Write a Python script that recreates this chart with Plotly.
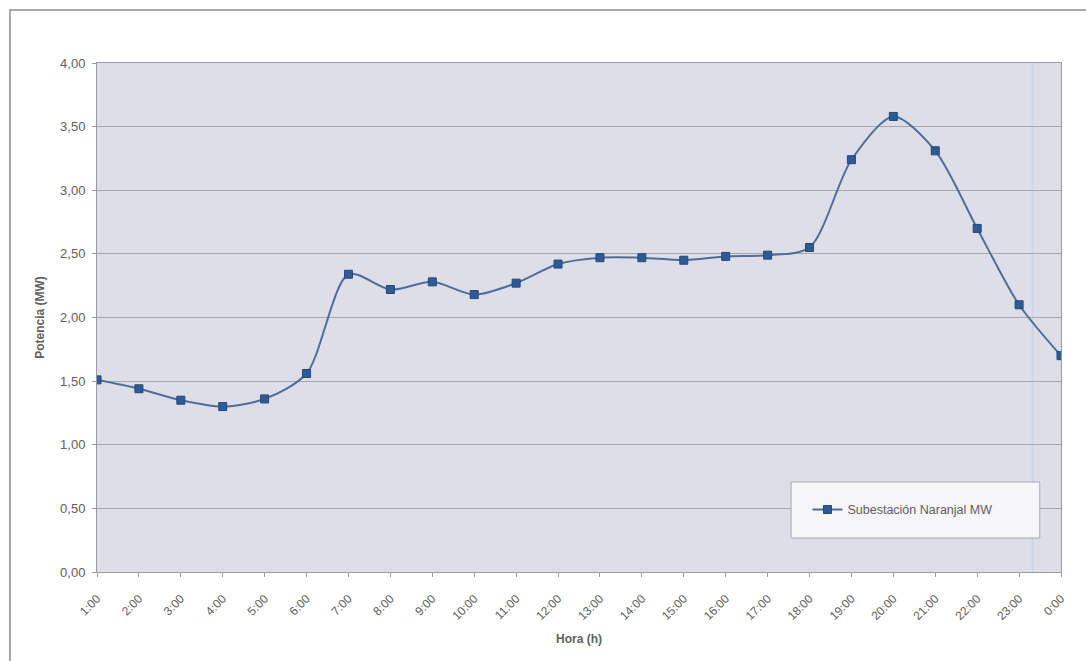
import plotly.graph_objects as go

# Hourly demand profile of the substation
horas = ["1:00", "2:00", "3:00", "4:00", "5:00", "6:00", "7:00", "8:00",
         "9:00", "10:00", "11:00", "12:00", "13:00", "14:00", "15:00", "16:00",
         "17:00", "18:00", "19:00", "20:00", "21:00", "22:00", "23:00", "0:00"]
potencia_mw = [1.51, 1.44, 1.35, 1.30, 1.36, 1.56, 2.34, 2.22,
               2.28, 2.18, 2.27, 2.42, 2.47, 2.47, 2.45, 2.48,
               2.49, 2.55, 3.24, 3.58, 3.31, 2.70, 2.10, 1.70]
y_ticks = [0, 0.5, 1.0, 1.5, 2.0, 2.5, 3.0, 3.5, 4.0]

FONT = "Liberation Sans, Arial, sans-serif"
GRAY_TXT = "#606060"

fig = go.Figure()
fig.add_trace(go.Scatter(
    x=list(range(len(horas))), y=potencia_mw,
    mode="lines+markers",
    name="Subestación Naranjal MW",
    line=dict(color="#4d6e9c", width=2, shape="spline", smoothing=0.8),
    marker=dict(symbol="square", size=8, color="#2d5b96",
                line=dict(color="#24497a", width=1)),
))

fig.update_layout(
    width=1086, height=661,
    margin=dict(l=97, r=25, t=63, b=89),
    paper_bgcolor="white",
    plot_bgcolor="#dedee9",
    separators=",.",
    font=dict(family=FONT, size=12, color=GRAY_TXT),
    showlegend=True,
    legend=dict(
        x=0.737, y=0.122, xanchor="left", yanchor="middle",
        bgcolor="rgba(0,0,0,0)", borderwidth=0,
        font=dict(family=FONT, size=12.5, color=GRAY_TXT),
        itemwidth=30,
    ),
    xaxis=dict(
        range=[0, len(horas) - 1],
        tickmode="array",
        tickvals=list(range(len(horas))),
        ticktext=horas,
        tickangle=-45,
        ticks="outside", ticklen=4, tickcolor="#9a9aa0",
        ticklabelstandoff=10,
        showgrid=False, zeroline=False,
        showline=True, linecolor="#9a9aa0", linewidth=1, mirror=True,
        title=dict(text="<b>Hora (h)</b>", standoff=12,
                   font=dict(family=FONT, size=12, color=GRAY_TXT)),
        tickfont=dict(family=FONT, size=12, color=GRAY_TXT),
    ),
    yaxis=dict(
        range=[0, 4],
        tickmode="array",
        tickvals=y_ticks,
        tickformat=".2f",
        ticks="outside", ticklen=4, tickcolor="#9a9aa0",
        ticklabelstandoff=4,
        showgrid=True, gridcolor="#a6a6ae", gridwidth=1,
        zeroline=False,
        showline=True, linecolor="#9a9aa0", linewidth=1, mirror=True,
        title=dict(text="<b>Potencia (MW)</b>", standoff=12,
                   font=dict(family=FONT, size=12, color=GRAY_TXT)),
        tickfont=dict(family=FONT, size=13, color=GRAY_TXT),
    ),
    shapes=[
        # outer chart frame
        dict(type="rect", xref="paper", yref="paper",
             x0=-0.0903, x1=1.5, y0=-0.5, y1=1.104,
             line=dict(color="#8c8c8c", width=1.5), fillcolor="rgba(0,0,0,0)",
             layer="below"),
        # faint vertical rule near the right edge of the plot
        dict(type="line", xref="paper", yref="paper",
             x0=0.9705, x1=0.9705, y0=0, y1=1,
             line=dict(color="#c9d6ea", width=2), layer="below"),
        # legend box
        dict(type="rect", xref="paper", yref="paper",
             x0=0.720, x1=0.978, y0=0.0668, y1=0.1768,
             line=dict(color="#a8a8b0", width=1), fillcolor="#f6f6f9",
             layer="above"),
    ],
)

fig.write_html("out.html")
